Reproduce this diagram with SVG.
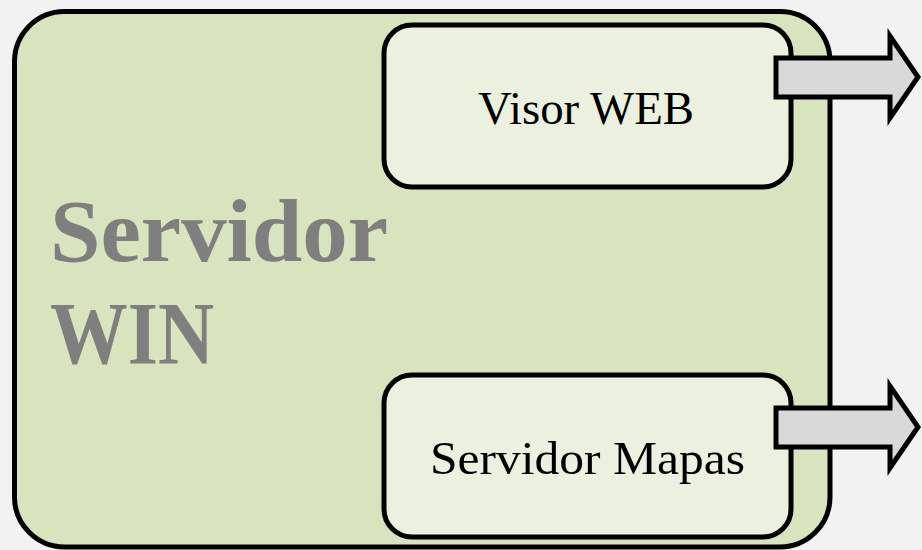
<svg xmlns="http://www.w3.org/2000/svg" width="922" height="550" viewBox="0 0 922 550">
  <style>
    .box { stroke: #000; stroke-width: 5; }
    .outer { fill: #d7e4bd; }
    .inner { fill: #ebf1de; }
    .arrow { fill: #d9d9d9; stroke: #000; stroke-width: 5; stroke-linejoin: miter; }
    .lbl { font-family: "Liberation Serif", "DejaVu Serif", serif; font-size: 47px; fill: #000; }
    .title { font-family: "Liberation Serif", "DejaVu Serif", serif; font-size: 88px; font-weight: bold; fill: #7f7f7f; }
  </style>
  <rect width="922" height="550" fill="#f2f2f2"/>
  <g id="servidor-win">
    <rect class="box outer" x="14.5" y="11.5" width="815.5" height="535.5" rx="50" ry="50"/>
    <text class="title" x="50" y="261" textLength="338" lengthAdjust="spacingAndGlyphs">Servidor</text>
    <text class="title" x="50" y="363" textLength="164" lengthAdjust="spacingAndGlyphs">WIN</text>
  </g>
  <g id="visor-web">
    <rect class="box inner" x="384" y="25" width="407" height="162" rx="28" ry="28"/>
    <text class="lbl" x="478" y="124" textLength="216" lengthAdjust="spacingAndGlyphs">Visor WEB</text>
  </g>
  <g id="servidor-mapas">
    <rect class="box inner" x="384" y="375" width="407" height="162" rx="28" ry="28"/>
    <text class="lbl" x="430" y="474" textLength="315" lengthAdjust="spacingAndGlyphs">Servidor Mapas</text>
  </g>
  <g id="connectors">
    <path class="arrow" d="M776,58 H890 V36 L918,77 L890,118 V97 H776 Z"/>
    <path class="arrow" d="M776,408 H890 V386 L918,427 L890,468 V447 H776 Z"/>
  </g>
</svg>
